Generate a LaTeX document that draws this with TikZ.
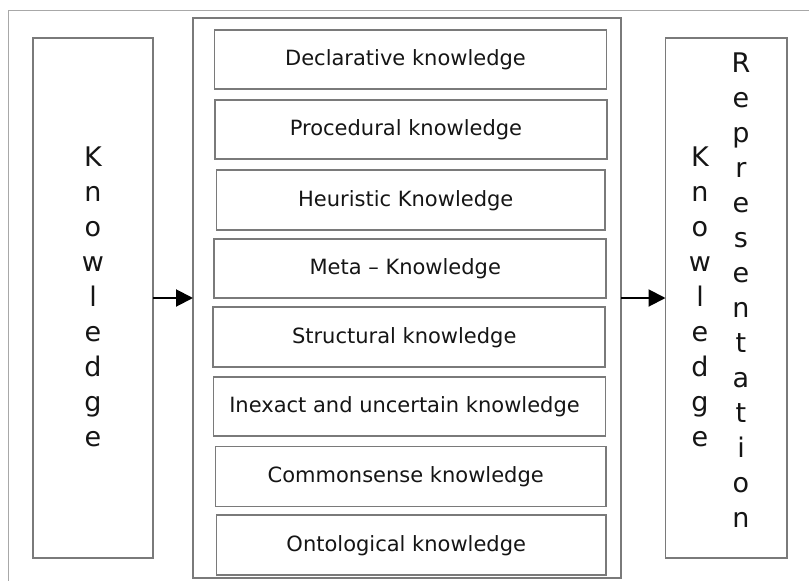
\documentclass[tikz,border=0pt]{standalone}
\usepackage{fontspec}
\setmainfont{DejaVu Sans}
\usetikzlibrary{arrows.meta}

\definecolor{framegray}{HTML}{A8A8A8}
\definecolor{boxgray}{HTML}{7A7A7A}
\definecolor{inkblack}{HTML}{151515}

\tikzset{
  kbox/.style={draw=boxgray, line width=1.6pt, inner sep=0pt, outer sep=0pt,
    text=inkblack, font=\fontsize{21}{25}\selectfont},
  kindbox/.style={kbox, minimum width=392pt, minimum height=59pt,
    text height=12pt, text depth=0pt, execute at end node={\hspace*{10pt}}},
  vertlabel/.style={anchor=north, inner sep=0pt, align=center, text=inkblack,
    font=\fontsize{27}{35}\selectfont},
  flow/.style={-{Triangle[length=17pt,width=17pt]}, line width=2pt, black}
}

\begin{document}
\begin{tikzpicture}[x=1pt, y=-1pt]
  \useasboundingbox (0,0) rectangle (809,581);

  % page frame (runs off the right and bottom edges)
  \draw[framegray, line width=1pt] (8,581) -- (8,10) -- (809,10);

  % source and target columns
  \node[kbox, minimum width=120pt, minimum height=520pt] (kl) at (93,298) {};
  \node[kbox, minimum width=121.5pt, minimum height=520pt] (kr) at (726.25,298) {};

  % container of the kinds of knowledge
  \node[kbox, minimum width=428pt, minimum height=560pt] (mid) at (407,298) {};

  % the kinds of knowledge
  \node[kindbox] (k1) at (410.5,59.5)  {Declarative knowledge};
  \node[kindbox] (k2) at (411,129.5)   {Procedural knowledge};
  \node[kindbox, minimum width=388.5pt, minimum height=60pt] (k3) at (410.75,200) {Heuristic Knowledge};
  \node[kindbox] (k4) at (410.25,268.5) {Meta – Knowledge};
  \node[kindbox, minimum height=60pt] (k5) at (409.25,337) {Structural knowledge};
  \node[kindbox] (k6) at (409.5,406.5) {Inexact and uncertain knowledge};
  \node[kindbox, minimum width=390.5pt, minimum height=60pt] (k7) at (410.75,476.5) {Commonsense knowledge};
  \node[kindbox, minimum width=389.5pt, minimum height=60pt] (k8) at (411.25,545) {Ontological knowledge};

  % vertical captions
  \node[vertlabel] (tl) at (93,147) {K\\n\\o\\w\\l\\e\\d\\g\\e};
  \node[vertlabel] (tr1) at (700,147) {K\\n\\o\\w\\l\\e\\d\\g\\e};
  \node[vertlabel] (tr2) at (741,53) {R\\e\\p\\r\\e\\s\\e\\n\\t\\a\\t\\i\\o\\n};

  % flow arrows
  \draw[flow] (kl.east) -- (mid.west);
  \draw[flow] (mid.east) -- (kr.west);
\end{tikzpicture}
\end{document}
